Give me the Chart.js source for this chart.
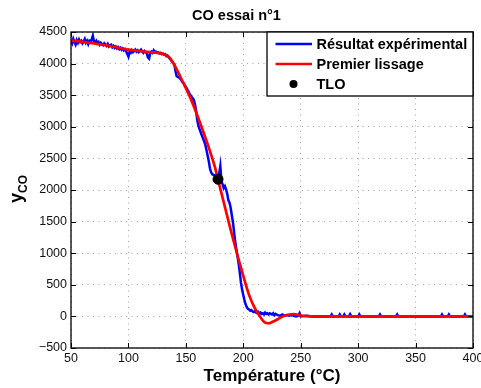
<!DOCTYPE html>
<html>
<head>
<meta charset="utf-8">
<script src="https://cdn.jsdelivr.net/npm/chart.js@4.4.0/dist/chart.umd.min.js"></script>
<style>
  html, body { margin: 0; padding: 0; background: #fff; }
  #wrap { width: 481px; height: 388px; }
</style>
</head>
<body>
<div id="wrap"><canvas id="coChart" width="481" height="388"></canvas></div>
<script>
// values
const expTemp = [
  50, 51, 52, 53, 54, 55, 56, 57, 58, 59, 60, 61, 62, 63, 64, 65, 66, 67, 68, 69,
  70, 71, 72, 73, 74, 75, 76, 77, 78, 79, 80, 81, 82, 83, 84, 85, 86, 87, 88, 89,
  90, 91, 92, 93, 94, 95, 96, 97, 98, 99, 100, 101, 102, 103, 104, 105, 106, 107, 108, 109,
  110, 111, 112, 113, 114, 115, 116, 117, 118, 119, 120, 121, 122, 123, 124, 125, 126, 127, 128, 129,
  130, 131, 132, 133, 134, 135, 136, 137, 138, 139, 140, 141, 142, 143, 144, 145, 146, 147, 148, 149,
  150, 151, 152, 153, 154, 155, 156, 157, 158, 159, 160, 161, 162, 163, 164, 165, 166, 167, 168, 169,
  170, 171, 172, 173, 174, 175, 176, 177, 178, 179, 180, 181, 182, 183, 184, 185, 186, 187, 188, 189,
  190, 191, 192, 193, 194, 195, 196, 197, 198, 199, 200, 201, 202, 203, 204, 205, 206, 207, 208, 209,
  210, 211, 212, 213, 214, 215, 216, 217, 218, 219, 220, 221, 222, 223, 224, 225, 226, 227, 228, 229,
  230, 232, 234, 236, 238, 240, 242, 244, 246, 248, 249, 250, 255, 260, 270, 276, 277, 278,
  283, 284, 285, 287, 288, 289, 292, 293, 294, 300, 301, 302, 318, 319, 320, 333, 334, 335,
  372, 373, 374, 378, 379, 380, 392, 393, 394, 400
];
const expCO = [
  4360, 4320, 4390, 4340, 4300, 4370, 4330, 4380, 4340, 4360, 4320, 4350, 4390, 4330, 4360, 4310, 4360, 4340, 4380, 4440,
  4350, 4330, 4360, 4320, 4340, 4300, 4330, 4310, 4290, 4320, 4300, 4280, 4310, 4270, 4290, 4300, 4260, 4280, 4250, 4270,
  4240, 4260, 4230, 4250, 4220, 4240, 4210, 4230, 4200, 4150, 4110, 4190, 4170, 4210, 4180, 4200, 4220, 4190, 4210, 4180,
  4200, 4220, 4190, 4170, 4200, 4180, 4160, 4100, 4080, 4170, 4190, 4170, 4210, 4180, 4190, 4170, 4180, 4160, 4170, 4150,
  4160, 4140, 4150, 4120, 4130, 4100, 4080, 4060, 4030, 4010, 3990, 3880, 3800, 3790, 3780, 3760, 3740, 3710, 3690, 3660,
  3630, 3600, 3570, 3530, 3500, 3470, 3450, 3420, 3350, 3240, 3100, 3010, 2960, 2910, 2860, 2810, 2770, 2710, 2630, 2540,
  2450, 2340, 2280, 2250, 2240, 2230, 2220, 2210, 2200, 2260, 2380, 2140, 2090, 2030, 2060, 2010, 1940, 1840, 1800, 1720,
  1600, 1490, 1330, 1180, 1060, 950, 830, 690, 530, 420, 340, 260, 190, 150, 120, 110, 90, 100, 80, 70,
  80, 60, 50, 70, 40, 60, 40, 50, 30, 60, 40, 50, 30, 50, 40, 30, 50, 20, 40, 30,
  20, 10, 30, 10, 20, 10, 20, 10, 0, 10, 50, 0, 10, 0, 0, 0, 30, 0,
  0, 30, 0, 0, 30, 0, 0, 35, 0, 0, 30, 0, 0, 30, 0, 0, 30, 0,
  0, 30, 0, 0, 30, 0, 0, 30, 0, 0
];
const fitTemp = [50, 60, 70, 80, 90, 100, 110, 120, 125, 130, 133, 136, 139, 142, 145, 150, 155, 160, 165, 170,
  175, 180, 185, 190, 195, 200, 205, 210, 213, 216, 218, 220, 222, 225, 230, 235, 240, 244, 248, 252, 256, 260, 300, 350, 400];
const fitCO = [4365, 4345, 4320, 4290, 4255, 4220, 4195, 4180, 4172, 4155, 4130, 4090, 4010, 3910, 3800, 3610, 3410, 3180, 2930, 2670,
  2380, 2020, 1660, 1300, 960, 640, 340, 130, 40, -40, -85, -105, -108, -90, -45, 5, 30, 35, 22, 10, 3, 0, 0, 0, 0];
const tloTemp = [178];
const tloCO = [2170];

const xTicks = [50, 100, 150, 200, 250, 300, 350, 400];
const yTicks = [-500, 0, 500, 1000, 1500, 2000, 2500, 3000, 3500, 4000, 4500];
const seriesLabels = ['Résultat expérimental', 'Premier lissage', 'TLO'];

const FONT = "'Liberation Sans', Arial, Helvetica, sans-serif";

// black box round the axes, with inward ticks on all four sides
const framePlugin = {
  id: 'frame',
  afterDatasetsDraw(chart) {
    const { ctx, chartArea: a, scales: { x, y } } = chart;
    const tl = 5;
    ctx.save();
    ctx.strokeStyle = '#000';
    ctx.lineWidth = 1;
    ctx.beginPath();
    xTicks.forEach(v => {
      const px = Math.round(x.getPixelForValue(v)) + 0.5;
      ctx.moveTo(px, a.bottom); ctx.lineTo(px, a.bottom - tl);
      ctx.moveTo(px, a.top); ctx.lineTo(px, a.top + tl);
    });
    yTicks.forEach(v => {
      const py = Math.round(y.getPixelForValue(v)) + 0.5;
      ctx.moveTo(a.left, py); ctx.lineTo(a.left + tl, py);
      ctx.moveTo(a.right, py); ctx.lineTo(a.right - tl, py);
    });
    ctx.stroke();
    ctx.lineWidth = 1.3;
    ctx.strokeRect(a.left, a.top, a.right - a.left, a.bottom - a.top);
    ctx.restore();
  }
};

// boxed legend in the top right corner, like matlab's
const legendPlugin = {
  id: 'boxLegend',
  afterDraw(chart) {
    const { ctx, chartArea: a } = chart;
    const w = 206, h = 64;
    const left = a.right - w, top = a.top;
    ctx.save();
    ctx.fillStyle = '#fff';
    ctx.fillRect(left, top, w, h);
    ctx.strokeStyle = '#000';
    ctx.lineWidth = 1.3;
    ctx.strokeRect(left, top, w, h);
    ctx.font = 'bold 14.5px ' + FONT;
    ctx.textBaseline = 'middle';
    ctx.textAlign = 'left';
    chart.data.datasets.forEach((ds, i) => {
      const cy = top + 12 + i * 20;
      if (ds.showLine === false) {
        ctx.fillStyle = ds.backgroundColor;
        ctx.beginPath();
        ctx.arc(left + 26.5, cy, 4, 0, Math.PI * 2);
        ctx.fill();
      } else {
        ctx.strokeStyle = ds.borderColor;
        ctx.lineWidth = 2.7;
        ctx.beginPath();
        ctx.moveTo(left + 8.5, cy);
        ctx.lineTo(left + 45, cy);
        ctx.stroke();
      }
      ctx.fillStyle = '#000';
      ctx.fillText(ds.label, left + 49.5, cy + 1);
    });
    ctx.restore();
  }
};

// y label with a subscript
const yLabelPlugin = {
  id: 'yLabel',
  afterDraw(chart) {
    const { ctx } = chart;
    ctx.save();
    ctx.translate(21.5, 189);
    ctx.rotate(-Math.PI / 2);
    ctx.fillStyle = '#000';
    ctx.textBaseline = 'alphabetic';
    ctx.textAlign = 'left';
    ctx.font = 'bold 18px ' + FONT;
    const wy = ctx.measureText('y').width;
    ctx.font = 'bold 12px ' + FONT;
    const wco = ctx.measureText('CO').width;
    const x0 = -(wy + wco) / 2;
    ctx.font = 'bold 18px ' + FONT;
    ctx.fillText('y', x0, 0);
    ctx.font = 'bold 12px ' + FONT;
    ctx.fillText('CO', x0 + wy, 5);
    ctx.restore();
  }
};

const tickFont = { family: FONT, size: 12.5 };
const gridStyle = { color: '#a0a0a0', lineWidth: 1, drawTicks: false };

new Chart(document.getElementById('coChart').getContext('2d'), {
  type: 'line',
  data: {
    datasets: [
      {
        label: seriesLabels[0],
        data: expTemp.map((t, i) => ({ x: t, y: expCO[i] })),
        borderColor: '#0000ff',
        backgroundColor: '#0000ff',
        borderWidth: 2.5,
        pointRadius: 0,
        tension: 0,
        order: 3
      },
      {
        label: seriesLabels[1],
        data: fitTemp.map((t, i) => ({ x: t, y: fitCO[i] })),
        borderColor: '#ff0000',
        backgroundColor: '#ff0000',
        borderWidth: 2.7,
        pointRadius: 0,
        cubicInterpolationMode: 'monotone',
        order: 2
      },
      {
        label: seriesLabels[2],
        data: tloTemp.map((t, i) => ({ x: t, y: tloCO[i] })),
        borderColor: '#000',
        backgroundColor: '#000',
        showLine: false,
        pointRadius: 5,
        order: 1
      }
    ]
  },
  options: {
    responsive: false,
    animation: false,
    layout: { padding: { left: 0, right: 8, top: 0, bottom: 0 } },
    plugins: {
      legend: { display: false },
      tooltip: { enabled: false },
      title: {
        display: true,
        text: 'CO essai n°1',
        color: '#000',
        font: { family: FONT, size: 14.5, weight: 'bold' },
        padding: { top: 7, bottom: 7.6 }
      }
    },
    scales: {
      x: {
        type: 'linear',
        min: 50,
        max: 400,
        afterBuildTicks: s => { s.ticks = xTicks.map(v => ({ value: v })); },
        afterFit: s => { s.height = 40; s.paddingLeft = 0; s.paddingRight = 0; },
        ticks: { font: tickFont, color: '#111', padding: 3, maxRotation: 0, autoSkip: false },
        grid: gridStyle,
        border: { display: false, dash: [1, 4.5] },
        title: {
          display: true,
          text: 'Température (°C)',
          color: '#000',
          font: { family: FONT, size: 17, weight: 'bold' },
          padding: { top: 0, bottom: 1 }
        }
      },
      y: {
        min: -500,
        max: 4500,
        afterBuildTicks: s => { s.ticks = yTicks.map(v => ({ value: v })); },
        afterFit: s => { s.width = 71; s.paddingTop = 0; s.paddingBottom = 0; },
        ticks: {
          font: tickFont,
          color: '#111',
          padding: 4,
          autoSkip: false,
          callback: v => (v < 0 ? '\u2212' + Math.abs(v) : String(v))
        },
        grid: gridStyle,
        border: { display: false, dash: [1, 4.5] }
      }
    }
  },
  plugins: [framePlugin, legendPlugin, yLabelPlugin]
});
</script>
</body>
</html>
